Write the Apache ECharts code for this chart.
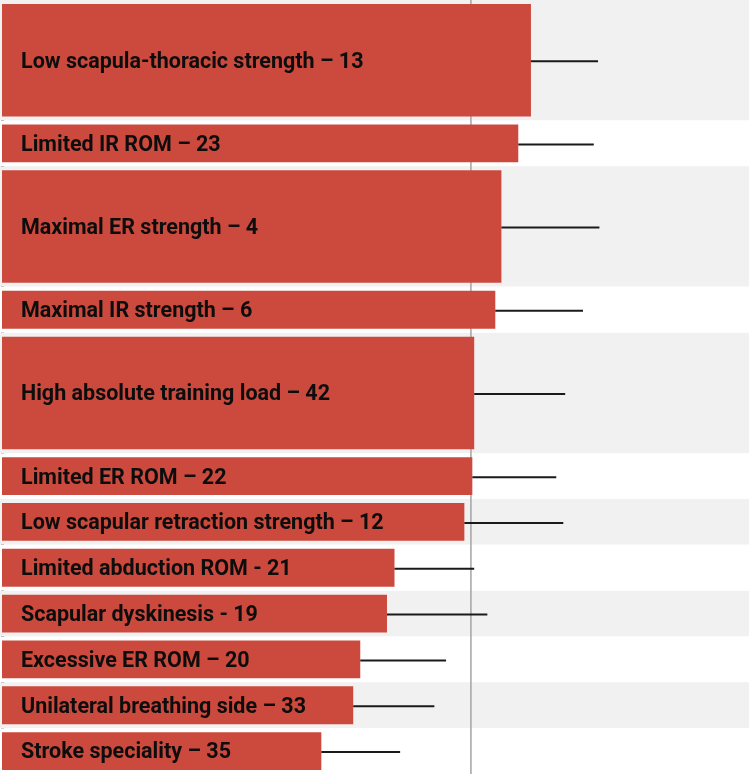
<!DOCTYPE html>
<html><head><meta charset="utf-8">
<script src="https://cdn.jsdelivr.net/npm/echarts@6/dist/echarts.min.js"></script>
<style>html,body{margin:0;padding:0;background:#fff;overflow:hidden}#c{width:749px;height:774px}</style>
</head><body><div id="c"></div>
<script>
// Factor labels (top to bottom)
const labels = [
  'Low scapula-thoracic strength \u2013 13',
  'Limited IR ROM \u2013 23',
  'Maximal ER strength \u2013 4',
  'Maximal IR strength \u2013 6',
  'High absolute training load \u2013 42',
  'Limited ER ROM \u2013 22',
  'Low scapular retraction strength \u2013 12',
  'Limited abduction ROM - 21',
  'Scapular dyskinesis - 19',
  'Excessive ER ROM \u2013 20',
  'Unilateral breathing side \u2013 33',
  'Stroke speciality \u2013 35'
];
// Point estimates (bar ends)
const values = [1.128, 1.101, 1.065, 1.052, 1.007, 1.003, 0.986, 0.837, 0.821, 0.764, 0.749, 0.681];
// Upper limits (whisker ends)
const upper  = [1.271, 1.262, 1.274, 1.239, 1.201, 1.182, 1.197, 1.007, 1.035, 0.947, 0.922, 0.849];
// Row weights (row thickness)
const weights = [2.63, 1, 2.63, 1, 2.63, 1, 1, 1, 1, 1, 1, 1];
// Reference value
const refValue = 1;

const starts = [];
let acc = 0;
weights.forEach(w => { starts.push(acc); acc += w; });
const total = acc;
const rows = labels.map((l, i) => [values[i], upper[i], starts[i], starts[i] + weights[i], i]);

const chart = echarts.init(document.getElementById('c'), null, {renderer: 'canvas'});
chart.setOption({
  animation: false,
  grid: {left: 2, top: 0, right: 0, bottom: 0},
  xAxis: {type: 'value', min: 0, max: 1.593, axisLine: {show: false}, axisTick: {show: false},
          axisLabel: {show: false}, splitLine: {show: false}},
  yAxis: {type: 'value', inverse: true, min: 0, max: total,
          axisLine: {show: true, onZero: false, lineStyle: {color: '#111', width: 3}},
          axisTick: {show: false}, axisLabel: {show: false}, splitLine: {show: false}},
  series: [
    {
      type: 'custom', z: 1, silent: true,
      data: rows,
      encode: {x: 0, y: [2, 3]},
      renderItem: function (params, api) {
        const cs = params.coordSys;
        const y0 = api.coord([0, api.value(2)])[1];
        const y1 = api.coord([0, api.value(3)])[1];
        const i = api.value(4);
        return {type: 'rect', shape: {x: cs.x - 5, y: y0, width: cs.width + 10, height: y1 - y0},
                style: {fill: i % 2 === 0 ? '#f1f1f1' : '#ffffff'}};
      }
    },
    {
      type: 'line', z: 2, silent: true, symbol: 'none',
      data: [[refValue, 0], [refValue, total]],
      lineStyle: {color: '#a3a3a3', width: 1.5}
    },
    {
      type: 'custom', z: 3, silent: true,
      data: rows,
      encode: {x: 0, y: [2, 3]},
      renderItem: function (params, api) {
        const p0 = api.coord([0, api.value(2)]);
        const p1 = api.coord([api.value(0), api.value(3)]);
        const i = api.value(4);
        const top = p0[1] + 4, bot = p1[1] - 4;
        return {type: 'group', children: [
          {type: 'rect', shape: {x: p0[0], y: top, width: p1[0] - p0[0], height: bot - top},
           style: {fill: '#cc4a3d'}},
          {type: 'text', style: {text: labels[i], x: p0[0] + 19, y: (top + bot) / 2 + 2,
            verticalAlign: 'middle', align: 'left', fill: '#0d0d0d',
            fontFamily: 'Roboto', fontWeight: 'bold', fontSize: 21.5}}
        ]};
      }
    },
    {
      type: 'custom', z: 4, silent: true,
      data: rows,
      encode: {x: 1, y: [2, 3]},
      renderItem: function (params, api) {
        const mid = (api.value(2) + api.value(3)) / 2;
        const a = api.coord([api.value(0), mid]);
        const b = api.coord([api.value(1), mid]);
        return {type: 'line', shape: {x1: a[0], y1: a[1] + 1, x2: b[0], y2: b[1] + 1},
                style: {stroke: '#1a1a1a', lineWidth: 2}};
      }
    }
  ]
});
</script></body></html>
